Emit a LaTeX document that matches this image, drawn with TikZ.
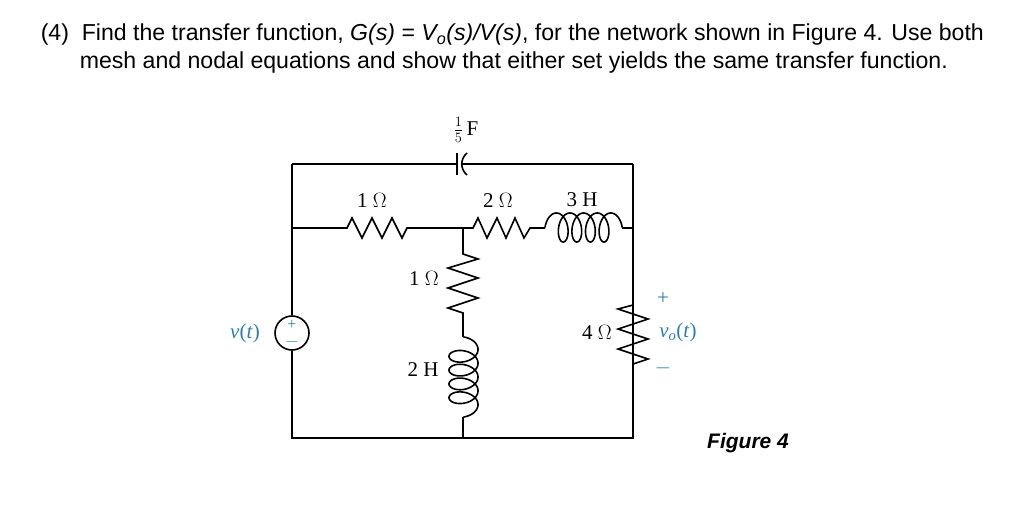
\documentclass[tikz,border=0pt]{standalone}
\usepackage{fontspec}
\setmainfont{Liberation Serif}
\newfontfamily\sans{Liberation Sans}
\definecolor{lblue}{RGB}{45,125,175}
\begin{document}
\begin{tikzpicture}[x=1pt,y=-1pt,line width=1.6pt,
  lbl/.style={font=\fontsize{21}{23}\selectfont},
  blbl/.style={font=\fontsize{21}{23}\selectfont,text=lblue}]
\useasboundingbox (0,0) rectangle (1035,517);
\node[anchor=west,font=\sans\fontsize{23.1}{26}\selectfont,inner sep=0pt] (t1) at (40,35) {(4)\ \ Find the transfer function, \textit{G(s)}\ =\ \textit{V\textsubscript{o}(s)/V(s)}, for the network shown in Figure 4. Use both};
\node[anchor=west,font=\sans\fontsize{23.1}{26}\selectfont,inner sep=0pt] (t2) at (79,63) {mesh and nodal equations and show that either set yields the same transfer function.};
\coordinate (TL) at (292,164); \coordinate (TR) at (633,164);
\coordinate (ML) at (292,228); \coordinate (MM) at (463,228); \coordinate (MR) at (633,228);
\coordinate (BL) at (292,438); \coordinate (BM) at (463,438); \coordinate (BR) at (633,438);
\node[circle,draw,minimum size=34pt,inner sep=0pt] (src) at (292,333) {};
\node[font=\fontsize{16}{16}\selectfont,text=lblue,inner sep=0pt] at (292,325) {+};
\node[font=\fontsize{16}{16}\selectfont,text=lblue,inner sep=0pt] at (292,342) {$-$};
% top with capacitor
\draw (TL) -- (457,164) (457,153) -- (457,175);
\draw (TR) -- (461,164);
\draw (467,153) .. controls (460,159) and (460,169) .. (467,175);
% outer wires
\draw (TL) -- (src.north) (src.south) -- (BL) -- (BR) -- (MR) -- (TR);
% middle row
\draw (ML) -- (347,228) -- (352,218) -- (362,238) -- (372,218) -- (382,238) -- (392,218) -- (402,238) -- (407,228) -- (MM)
  -- (473,228) -- (478,218) -- (487,238) -- (497,218) -- (506,238) -- (515,218) -- (524,238) -- (530,228) -- (545,228);
\draw plot[domain=1.5708:29.845,samples=300,variable=\t,smooth] ({549.6+13.6*\t/6.2832-8*sin(\t r)},{242-14.5*(1-cos(\t r))});
\draw (622,228) -- (MR);
% middle branch
\draw (MM) -- (463,254) -- (478,259) -- (448,268) -- (478,278) -- (448,288) -- (478,298) -- (448,308) -- (463,313) -- (463,337);
\draw plot[domain=1.5708:29.845,samples=300,variable=\t,smooth] ({449+14.5*(1-cos(\t r))},{342.5+13.8*\t/6.2832-9*sin(\t r)});
\draw (463,417) -- (BM);
% right 4 ohm
\draw (633,228) -- (633,305) -- (618,309) -- (648,319) -- (618,329) -- (648,339) -- (618,349) -- (648,359) -- (633,364) -- (633,438);
% labels
\node[lbl] at (372,200) {1 $\Omega$};
\node[lbl] at (498,200) {2 $\Omega$};
\node[lbl] at (582,200) {3 H};
\node[lbl] at (466,130) {$\frac{1}{5}$\,F};
\node[lbl] at (424,278) {1 $\Omega$};
\node[lbl] at (423,370) {2 H};
\node[lbl] at (597,332) {4 $\Omega$};
\node[blbl] at (245,333) {\textit{v}(\textit{t})};
\node[blbl] at (678,332) {\textit{v\textsubscript{o}}(\textit{t})};
\node[blbl] at (663,299) {+};
\node[blbl] at (663,368) {$-$};
\node[font=\sans\bfseries\itshape\fontsize{21}{24}\selectfont] (fig) at (748,443) {Figure 4};
\end{tikzpicture}
\end{document}
